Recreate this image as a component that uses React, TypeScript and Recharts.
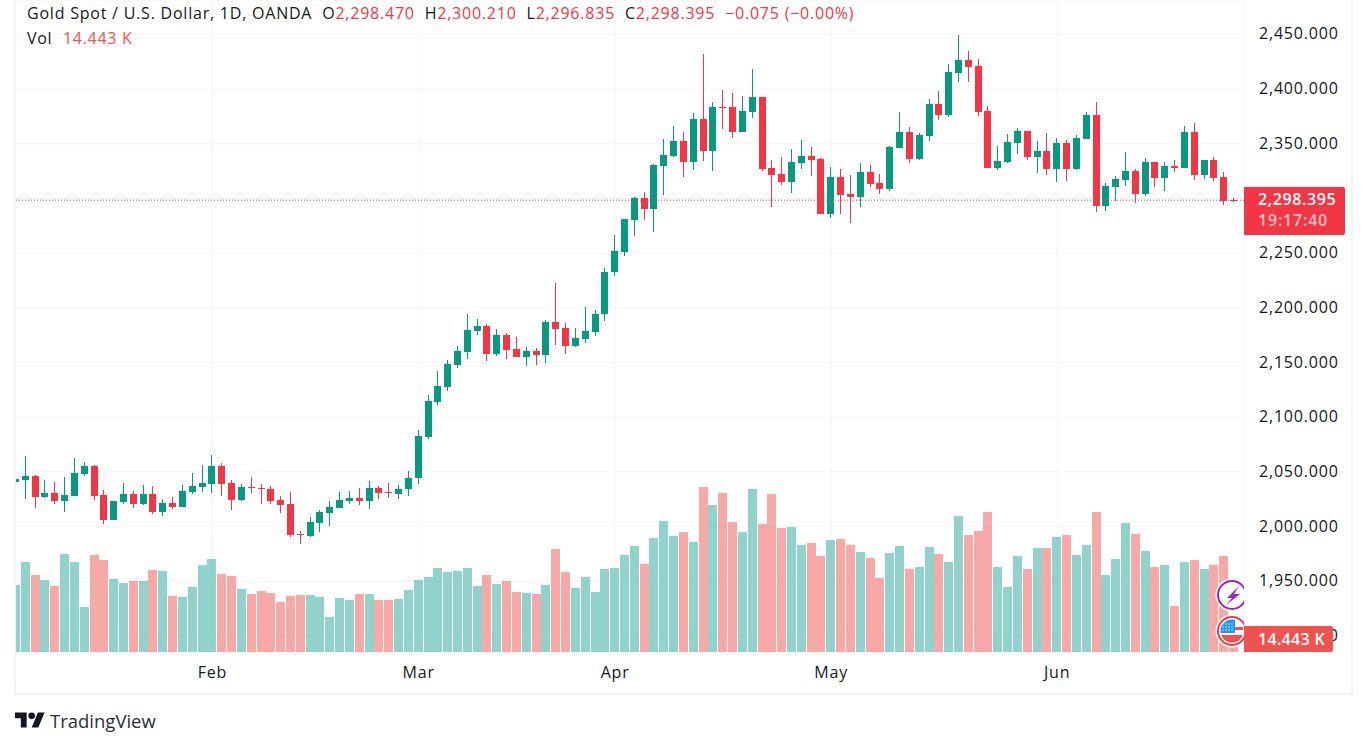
import React from "react";
import { ComposedChart, Bar, XAxis, YAxis, CartesianGrid, ReferenceLine } from "recharts";

const opens = [
  2040.6, 2042.4, 2046, 2026.8, 2030.5, 2023.2, 2027.8, 2047.9, 2055.2, 2028.7,
  2005.8, 2022.3, 2029.6, 2020.4, 2029.6, 2013.1, 2021.4, 2017.7, 2031.4, 2036,
  2038.7, 2055.2, 2039.7, 2024.1, 2036, 2035.1, 2034.2, 2024.1, 2020.4, 1993,
  1991.2, 2003, 2012.2, 2016.8, 2023.2, 2025.9, 2023.2, 2035.1, 2031.4, 2029.6,
  2034, 2044, 2082.1, 2113.9, 2127.6, 2147.6, 2159.4, 2178.5, 2183, 2157.6,
  2174.8, 2162.1, 2154.8, 2160.3, 2156.7, 2186.7, 2181.2, 2164.8, 2171.2, 2177.6,
  2193.9, 2232.4, 2251.2, 2280.4, 2300.5, 2290.5, 2329.8, 2338.9, 2352.6, 2333.4,
  2372.7, 2343.5, 2383.6, 2383.6, 2360.8, 2379, 2392.8, 2327.9, 2322.4, 2315.1,
  2332.5, 2338.9, 2336.1, 2285.9, 2319.7, 2304.2, 2301.4, 2324.3, 2314.2, 2308.7,
  2346.2, 2360.8, 2336.1, 2356.7, 2385.9, 2375.9, 2414.2, 2426.1, 2420.6, 2379.5,
  2327.5, 2333, 2350.3, 2361.3, 2337.5, 2343, 2326.6, 2350.3, 2326.6, 2354,
  2375.9, 2292.8, 2310.1, 2316.5, 2324.7, 2303.7, 2333, 2318.3, 2329.3, 2327.5,
  2360.3, 2321.1, 2334.8, 2319.3, 2298.47,
];
const closes = [
  2043.3, 2046, 2026.8, 2030.5, 2023.2, 2028.7, 2048.8, 2055.2, 2027.8, 2005.8,
  2023.2, 2029.6, 2020.4, 2029.6, 2013.1, 2021.4, 2017.7, 2032.3, 2036.9, 2039.7,
  2055.2, 2038.7, 2024.1, 2036, 2035.1, 2034.2, 2023.2, 2019.5, 1992.1, 1992.1,
  2004, 2013.1, 2017.7, 2024.1, 2025.9, 2023.2, 2035.1, 2030.5, 2030.5, 2034.2,
  2044.8, 2083, 2114.8, 2128.5, 2148.5, 2160.3, 2179.4, 2183, 2157.6, 2174.8,
  2161.2, 2154.8, 2160.3, 2156.7, 2186.7, 2180.3, 2164.8, 2172.1, 2178.5, 2194.8,
  2233, 2252.1, 2281.4, 2300.5, 2290.5, 2330.7, 2339.8, 2352.6, 2333.4, 2372.7,
  2343.5, 2383.6, 2382.7, 2360.8, 2380, 2392.8, 2327, 2321.5, 2315.1, 2333.4,
  2338.9, 2335.2, 2285.9, 2319.7, 2303.3, 2301.4, 2324.3, 2313.3, 2308.7, 2347.1,
  2360.8, 2336.1, 2358.1, 2385.9, 2375.9, 2415.1, 2426.1, 2419.7, 2378.6, 2327.5,
  2333.9, 2351.2, 2361.3, 2337.5, 2343, 2326.6, 2350.3, 2326.6, 2354.9, 2375.9,
  2292.8, 2311, 2317.4, 2324.7, 2303.7, 2333, 2318.3, 2329.3, 2327.5, 2360.3,
  2321.1, 2334.8, 2318.3, 2297.3, 2298.395,
];
const highs = [
  2051.5, 2064.4, 2047, 2042.4, 2040.6, 2045.1, 2062.5, 2058.9, 2056.1, 2033.2,
  2023.4, 2039.7, 2032.3, 2037.8, 2036.9, 2025, 2026.8, 2037.8, 2048.8, 2056.1,
  2065.3, 2058, 2042.4, 2038.7, 2045.1, 2038.7, 2036.9, 2027.8, 2031.4, 1995.7,
  2008.5, 2014.9, 2023.2, 2031.4, 2032.3, 2035.1, 2041.5, 2036.9, 2039.7, 2037.8,
  2051.2, 2088.5, 2120.3, 2142.1, 2152.1, 2164.8, 2194.8, 2189.4, 2184.8, 2180.3,
  2176.7, 2173, 2163.9, 2163, 2188.5, 2223, 2185.7, 2181.2, 2200.3, 2197.6,
  2236.4, 2266.7, 2281.6, 2301.4, 2306, 2331, 2354.4, 2366.3, 2360.8, 2378.2,
  2432, 2388.2, 2399.2, 2396.4, 2393.7, 2418.3, 2393, 2335.2, 2338, 2345.3,
  2353.5, 2347.1, 2337, 2328.8, 2327, 2321.5, 2332.5, 2330.7, 2322.4, 2348,
  2379, 2365.4, 2359.9, 2390.5, 2397.8, 2422.4, 2449.8, 2434.3, 2427, 2384.1,
  2347.6, 2358.5, 2364, 2361.5, 2352.1, 2359.4, 2354.9, 2353, 2357.6, 2378.6,
  2387.7, 2313.8, 2320.2, 2342.1, 2326.6, 2336.6, 2333.2, 2333, 2334.8, 2365.8,
  2368.6, 2335, 2337.5, 2323.8, 2300.21,
];
const lows = [
  2036.3, 2025, 2016.8, 2025.9, 2020.4, 2013.1, 2027.8, 2046.1, 2024.1, 2002.1,
  2005.6, 2020.4, 2016.8, 2019.5, 2011.3, 2009.5, 2015.9, 2017.7, 2029.6, 2031.4,
  2030.5, 2027.8, 2014.9, 2023.2, 2030.5, 2020.4, 2020.4, 2012.2, 1990.2, 1983.8,
  1990.2, 1994.8, 2000.3, 2016.8, 2020.4, 2019.5, 2015.9, 2025, 2025.9, 2025,
  2028.5, 2039.4, 2080.3, 2111.2, 2123.9, 2144.8, 2153.9, 2174.8, 2151.2, 2155.7,
  2153, 2154.6, 2146.7, 2147.6, 2149.4, 2166.7, 2157.6, 2163.9, 2167.6, 2173.9,
  2187.6, 2228.8, 2247.6, 2265.8, 2280.4, 2268.6, 2303.3, 2338, 2319.7, 2326.1,
  2334.3, 2325.2, 2363.5, 2355.3, 2360.6, 2373.6, 2325.2, 2292.3, 2312.4, 2305.1,
  2327, 2320.6, 2285.7, 2282.3, 2285.9, 2277.7, 2292.3, 2310.6, 2304.2, 2306.9,
  2346, 2332.5, 2335.2, 2352.1, 2371.3, 2374, 2406.9, 2406, 2375, 2327.3,
  2325.6, 2332, 2340.3, 2334.8, 2322.9, 2321.1, 2314.7, 2315.6, 2325.6, 2353.8,
  2287.3, 2288.2, 2297.3, 2311, 2295.5, 2301.9, 2310.1, 2306.5, 2323.8, 2327.3,
  2316.5, 2317.4, 2315.6, 2293.7, 2296.835,
];
// volume in thousands
const volumes = [
  80.4, 108, 92.4, 86.4, 79.2, 117.6, 108, 54, 116.4, 110.4,
  87.6, 82.8, 85.2, 85.2, 98.4, 97.2, 67.2, 66, 78, 104.4,
  111.6, 93.6, 91.2, 75.6, 69.6, 73.2, 70.8, 60, 67.2, 68.4,
  68.4, 66, 42, 64.8, 62.4, 69.6, 69.6, 62.4, 62.4, 63.6,
  74.4, 86.4, 90, 100.8, 96, 97.2, 100.8, 79.2, 92.4, 81.6,
  85.2, 72, 70.8, 69.6, 80.4, 123.6, 96, 76.8, 90, 72,
  99.6, 100.8, 116.4, 127.2, 105.6, 136.8, 157.2, 139.2, 144, 132,
  198, 176.4, 190.8, 156, 144, 195.6, 153.6, 189.6, 148.8, 150,
  128.4, 130.8, 115.2, 134.4, 135.6, 128.4, 120, 112.8, 88.8, 118.8,
  127.2, 99.6, 102, 126, 117.6, 108, 163.2, 140.4, 145.2, 168,
  102, 78, 115.2, 99.6, 124.8, 124.8, 138, 140.4, 116.4, 128.4,
  168, 92.4, 111.6, 154.8, 141.6, 121.2, 102, 104.4, 55.2, 108,
  110.4, 99.6, 104.4, 115.2, 14.443,
];

const monthTicks = [20, 41, 61, 83, 106];
const monthLabels = ["Feb", "Mar", "Apr", "May", "Jun"];
const priceTicks = [1900, 1950, 2000, 2050, 2100, 2150, 2200, 2250, 2300, 2350, 2400, 2450];
const lastPrice = 2298.395;

const UP = "#089981";
const DOWN = "#f23645";
const VOL_UP = "rgba(38,166,154,0.5)";
const VOL_DOWN = "rgba(239,83,80,0.5)";
const FONT = "'Open Sans', sans-serif";
const TEXT = "#131722";

const rows = opens.map((o, i) => ({
  t: i,
  open: o,
  close: closes[i],
  high: highs[i],
  low: lows[i],
  range: [lows[i], highs[i]],
  volume: volumes[i],
}));

const Candle = (props: any) => {
  const { x, y, width, height, payload } = props;
  const { open, close, high, low } = payload;
  const ppu = height / (high - low);
  const color = close >= open ? UP : DOWN;
  const c = Math.floor(x + width / 2);
  const top = Math.round(y + (high - Math.max(open, close)) * ppu);
  const bot = Math.round(y + (high - Math.min(open, close)) * ppu);
  return (
    <g shapeRendering="crispEdges">
      <rect x={c} y={Math.round(y)} width={1} height={Math.max(1, Math.round(height))} fill={color} />
      <rect x={c - 3} y={top} width={7} height={Math.max(1, bot - top)} fill={color} />
    </g>
  );
};

const VolumeBar = (props: any) => {
  const { x, y, width, height, payload } = props;
  const c = Math.floor(x + width / 2);
  return (
    <rect
      x={c - 4}
      y={Math.round(y)}
      width={9}
      height={Math.round(height)}
      fill={payload.close >= payload.open ? VOL_UP : VOL_DOWN}
      shapeRendering="crispEdges"
    />
  );
};

const PriceTick = (props: any) => {
  const { x, y, payload } = props;
  return (
    <text x={x} y={y + 5} fontFamily={FONT} fontSize={16} fill={TEXT} letterSpacing={0.8}>
      {payload.value.toLocaleString("en-US", { minimumFractionDigits: 3, maximumFractionDigits: 3 })}
    </text>
  );
};

const MonthTick = (props: any) => {
  const { x, y, payload } = props;
  return (
    <text x={x} y={y + 18} textAnchor="middle" fontFamily={FONT} fontSize={16} fill={TEXT} letterSpacing={0.8}>
      {monthLabels[monthTicks.indexOf(payload.value)]}
    </text>
  );
};

const abs = (left: number, top: number, extra: React.CSSProperties = {}): React.CSSProperties => ({
  position: "absolute",
  left,
  top,
  whiteSpace: "pre",
  fontFamily: FONT,
  ...extra,
});

const flagDots = [
  [13, 49], [16, 49], [19, 49], [22, 49],
  [13, 52], [16, 52], [19, 52], [22, 52],
  [13, 55], [16, 55], [19, 55], [22, 55],
];

export default function App() {
  return (
    <div style={{ position: "absolute", left: 0, top: 0, width: 1361, height: 746, background: "#fff", overflow: "hidden" }}>
      <ComposedChart
        width={1361}
        height={746}
        data={rows}
        margin={{ top: 0, right: 0, bottom: 0, left: 15 }}
        style={{ position: "absolute", left: 0, top: 0 }}
      >
        <CartesianGrid stroke="#f3f4f6" strokeWidth={1} />
        <XAxis
          dataKey="t"
          type="number"
          domain={[-0.09, 125.02]}
          allowDataOverflow
          ticks={monthTicks}
          tick={MonthTick}
          tickLine={false}
          axisLine={false}
          height={94}
          interval={0}
        />
        <XAxis xAxisId="vol" dataKey="t" type="number" domain={[-0.09, 125.02]} allowDataOverflow hide />
        <YAxis
          orientation="right"
          domain={[1885.4, 2481.35]}
          allowDataOverflow
          ticks={priceTicks}
          tick={PriceTick}
          tickLine={false}
          axisLine={false}
          width={117}
          tickMargin={9}
          interval={0}
        />
        <YAxis yAxisId="vol" orientation="left" domain={[0, 782.4]} allowDataOverflow hide />
        <Bar
          xAxisId="vol"
          yAxisId="vol"
          dataKey="volume"
          barSize={9}
          shape={VolumeBar}
          isAnimationActive={false}
        />
        <ReferenceLine y={lastPrice} stroke={DOWN} strokeWidth={1} strokeDasharray="1 2" />
        <Bar dataKey="range" barSize={7} shape={Candle} isAnimationActive={false} />
      </ComposedChart>

      {/* frame */}
      <div style={{ position: "absolute", left: 14, top: 0, width: 2, height: 695, background: "#f0f3fa" }} />
      <div style={{ position: "absolute", left: 1351, top: 0, width: 2, height: 695, background: "#f0f3fa" }} />
      <div style={{ position: "absolute", left: 14, top: 693, width: 1339, height: 2, background: "#f0f3fa" }} />

      {/* legend */}
      <div style={abs(27, 2, { fontSize: 16, color: TEXT, letterSpacing: 0.78 })}>
        Gold Spot / U.S. Dollar, 1D, OANDA
        <span>{"  O"}</span><span style={{ color: DOWN }}>2,298.470</span>
        <span>{"  H"}</span><span style={{ color: DOWN }}>2,300.210</span>
        <span>{"  L"}</span><span style={{ color: DOWN }}>2,296.835</span>
        <span>{"  C"}</span><span style={{ color: DOWN }}>2,298.395</span>
        <span style={{ color: DOWN }}>{"  −0.075 (−0.00%)"}</span>
      </div>
      <div style={abs(27, 27, { fontSize: 16, color: TEXT, letterSpacing: 0.7 })}>Vol</div>
      <div style={abs(63, 27, { fontSize: 16, color: "#ef5350", letterSpacing: 0.7 })}>14.443 K</div>

      {/* last price label */}
      <div style={{ position: "absolute", left: 1244, top: 187, width: 101, height: 48, background: DOWN, borderRadius: "0 2px 2px 0" }} />
      <div style={abs(1258, 188, { fontSize: 16, fontWeight: 600, color: "#fff", letterSpacing: 0.6 })}>2,298.395</div>
      <div style={abs(1258, 209, { fontSize: 16, fontWeight: 600, color: "rgba(255,255,255,0.7)", letterSpacing: 0.8 })}>19:17:40</div>

      {/* event icons */}
      <svg width={34} height={80} viewBox="0 0 34 80" style={{ position: "absolute", left: 1210, top: 575 }}>
        <circle cx={22} cy={20} r={16.5} fill="#fff" />
        <circle cx={22} cy={20} r={14} fill="#fff" stroke="#9c27b0" strokeWidth={2} />
        <polygon points="29,11 17,23 22,23 16,30 30,19 24,19" fill="#9c27b0" />
        <circle cx={22} cy={56} r={16.5} fill="#fff" />
        <clipPath id="flagClip"><circle cx={22} cy={56} r={11.5} /></clipPath>
        <g clipPath="url(#flagClip)">
          <rect x={10} y={44} width={24} height={24} fill="#fff" />
          <rect x={10} y={52} width={24} height={3} fill="#ef5350" />
          <rect x={10} y={60} width={24} height={8} fill="#ef5350" />
          <rect x={10} y={44} width={15} height={14} fill="#2196f3" />
          {flagDots.map(([cx, cy], k) => (
            <circle key={k} cx={cx} cy={cy} r={0.7} fill="#fff" />
          ))}
        </g>
        <circle cx={22} cy={56} r={14} fill="none" stroke="#f23645" strokeWidth={2} />
      </svg>

      {/* volume label */}
      <div style={{ position: "absolute", left: 1244, top: 626, width: 89, height: 26, background: "#ef5350", borderRadius: "0 2px 2px 0" }} />
      <div style={abs(1258, 628, { fontSize: 16, fontWeight: 600, color: "#fff", letterSpacing: 0.3 })}>14.443 K</div>

      {/* brand */}
      <svg width={30} height={16} viewBox="0 4 36 18" style={{ position: "absolute", left: 15, top: 712 }}>
        <path d="M14 22H7V11H0V4h14v18zM28 22h-8l7.5-18h8L28 22z" fill={TEXT} />
        <circle cx={20} cy={8} r={4} fill={TEXT} />
      </svg>
      <div style={abs(50, 708, { fontSize: 18.5, color: "#2a2e39" })}>TradingView</div>
    </div>
  );
}
